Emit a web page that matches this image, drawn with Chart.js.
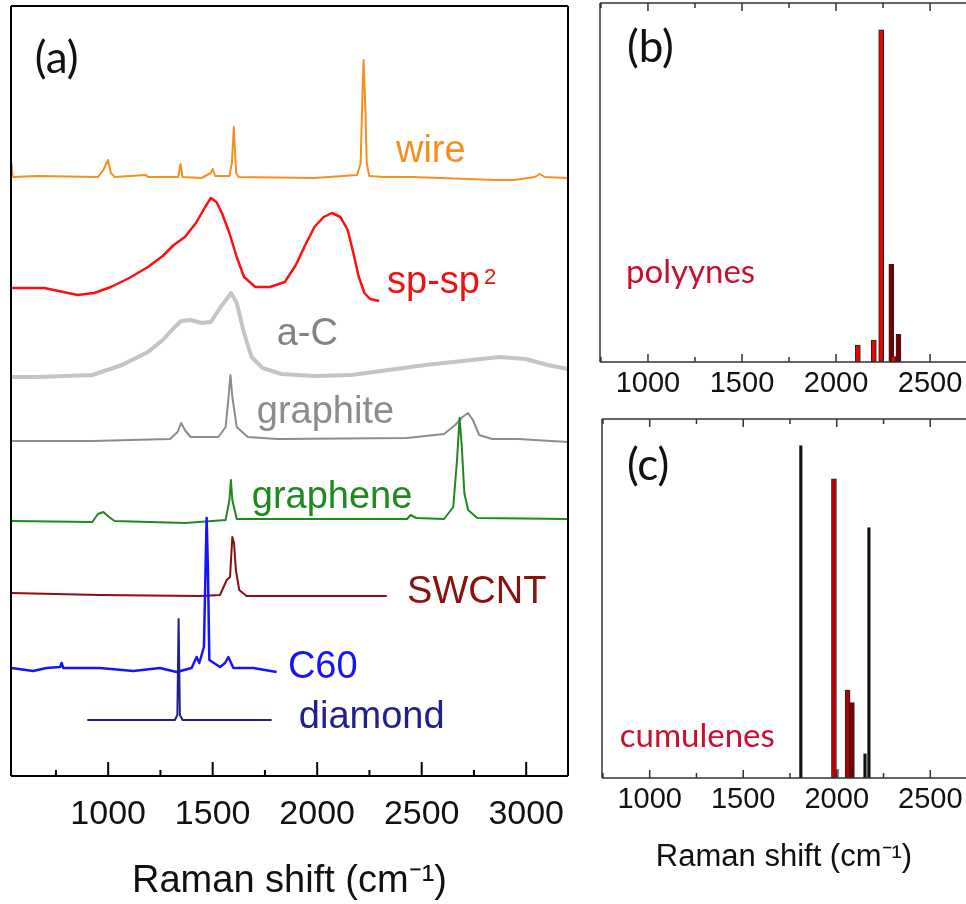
<!DOCTYPE html>
<html>
<head>
<meta charset="utf-8">
<script src="https://cdn.jsdelivr.net/npm/chart.js@4.4.1/dist/chart.umd.min.js"></script>
<style>
  html, body { margin: 0; padding: 0; background: #fff; overflow: hidden; }
  body { width: 966px; height: 904px; position: relative; }
  canvas { position: absolute; }
</style>
</head>
<body>
<canvas id="panelA" width="600" height="904" style="left:0;top:0"></canvas>
<canvas id="panelB" width="400" height="404" style="left:590px;top:0"></canvas>
<canvas id="panelC" width="400" height="494" style="left:590px;top:410px"></canvas>
<script>
// Raman shift (cm-1) vs intensity (a.u.)
const diamondSpectrum = [[900,0],[1319,0],[1331,5],[1337,101],[1343,5],[1356,0],[1782,0]];
const c60Spectrum = [[537,3],[641,0],[705,3],[770,4],[777,8],[785,3],[960,3],[1120,0],[1248,3],[1327,-1],[1399,3],[1423,14],[1436,8],[1458,24],[1466,104],[1471,153],[1477,104],[1484,11],[1535,4],[1559,8],[1575,14],[1599,3],[1694,3],[1806,-1]];
const swcntSpectrum = [[537,2],[960,0],[1439,-1],[1535,0],[1567,15],[1583,18],[1594,58],[1602,52],[1611,25],[1627,5],[1662,-1],[2333,-1]];
const grapheneSpectrum = [[540,0],[924,-1],[951,7],[977,9],[1004,4],[1031,0],[1367,-2],[1562,1],[1580,21],[1587,41],[1594,21],[1615,2],[1898,2],[2430,2],[2447,6],[2474,3],[2607,2],[2651,14],[2669,61],[2681,103],[2692,74],[2704,28],[2722,11],[2766,3],[3200,2]];
const graphiteSpectrum = [[540,0],[924,0],[1296,2],[1332,9],[1349,18],[1367,11],[1394,4],[1527,4],[1562,14],[1576,44],[1585,66],[1594,44],[1615,14],[1668,4],[1810,2],[2430,3],[2607,7],[2660,16],[2695,24],[2722,28],[2745,21],[2775,6],[2837,2],[2961,2],[3200,-1]];
const aCSpectrum = [[540,0],[659,0],[924,2],[1066,12],[1190,25],[1261,37],[1314,49],[1349,56],[1394,57],[1447,54],[1491,55],[1535,69],[1588,84],[1615,74],[1650,44],[1686,20],[1739,9],[1828,3],[1987,1],[2164,2],[2341,7],[2518,12],[2695,16],[2872,20],[2996,18],[3103,12],[3200,8]];
const spSp2Spectrum = [[540,0],[694,0],[854,-7],[933,-5],[1013,1],[1101,10],[1190,21],[1261,32],[1314,43],[1367,51],[1420,65],[1464,81],[1491,90],[1518,86],[1544,75],[1580,55],[1615,31],[1650,11],[1704,1],[1774,1],[1845,6],[1898,23],[1943,43],[1987,61],[2031,71],[2070,75],[2111,71],[2146,58],[2173,35],[2199,11],[2226,-5],[2244,-9],[2253,-11],[2297,-13]];
const wireSpectrum = [[537,14],[543,0],[659,1],[951,0],[977,7],[999,17],[1013,4],[1031,0],[1181,2],[1190,0],[1335,0],[1346,13],[1356,0],[1447,-1],[1491,4],[1500,8],[1512,1],[1580,1],[1592,14],[1601,50],[1612,4],[1624,0],[1987,-1],[2191,2],[2208,14],[2215,71],[2222,117],[2231,66],[2237,14],[2249,1],[2323,0],[2456,0],[2855,-3],[2943,-3],[3041,0],[3064,3],[3089,0],[3200,-1]];

// vertical offsets of the stacked spectra (same order as below, bottom first)
const spectrumNames = ['diamond', 'C60', 'SWCNT', 'graphene', 'graphite', 'a-C', 'sp-sp2', 'wire'];
const spectrumOffsets = [56, 105, 181, 255, 335, 399, 488, 599];

// computed spectra, panel (b) polyynes and (c) cumulenes
const polyyneShift = [2116, 2201, 2240, 2294, 2306, 2332];
const polyyneIntensity = [4.7, 6.1, 92.5, 27.2, 1.5, 7.7];
const cumuleneThinShift = [1808, 2004, 2151, 2172];
const cumuleneThinIntensity = [92.5, 2.4, 6.7, 69.7];
const cumuleneShift = [1985, 2058, 2081];
const cumuleneIntensity = [83.3, 24.5, 21.0];

const ticksA = [750, 1000, 1250, 1500, 1750, 2000, 2250, 2500, 2750, 3000];
const ticksBC = [750, 1000, 1250, 1500, 1750, 2000, 2250, 2500];
const majorTicks = [1000, 1500, 2000, 2500, 3000];

const SANS = "'Liberation Sans', Arial, sans-serif";
const HUMANIST = "Lato, 'Open Sans', sans-serif";

const spectraStyle = {
  'diamond': { color: '#1f1f8f', width: 2 },
  'C60': { color: '#1414ff', width: 2.5 },
  'SWCNT': { color: '#8b1010', width: 2 },
  'graphene': { color: '#1e8a1e', width: 2 },
  'graphite': { color: '#8c8c8c', width: 2 },
  'a-C': { color: '#c4c4c4', width: 4 },
  'sp-sp2': { color: '#ff1010', width: 2.5 },
  'wire': { color: '#f5901f', width: 2 },
};
const spectra = [diamondSpectrum, c60Spectrum, swcntSpectrum, grapheneSpectrum, graphiteSpectrum, aCSpectrum, spSp2Spectrum, wireSpectrum];

// frame with inward tick marks, drawn through the x scale
const makeFrame = (cfg) => ({
  id: 'frame',
  afterDraw(chart) {
    const { ctx, chartArea: { left, right, top, bottom }, scales: { x } } = chart;
    ctx.save();
    ctx.strokeStyle = cfg.color;
    ctx.lineWidth = cfg.width;
    ctx.beginPath();
    if (cfg.sides.includes('top')) { ctx.moveTo(left, top); ctx.lineTo(right, top); }
    if (cfg.sides.includes('bottom')) { ctx.moveTo(left, bottom); ctx.lineTo(right, bottom); }
    if (cfg.sides.includes('left')) { ctx.moveTo(left, top); ctx.lineTo(left, bottom); }
    if (cfg.sides.includes('right')) { ctx.moveTo(right, top); ctx.lineTo(right, bottom); }
    x.ticks.forEach((t) => {
      const px = x.getPixelForValue(t.value);
      const len = t.value % 500 === 0 ? cfg.major : cfg.minor;
      cfg.tickSides.forEach((side) => {
        const y0 = side === 'bottom' ? bottom : top;
        const dir = side === 'bottom' ? -1 : 1;
        ctx.moveTo(px, y0);
        ctx.lineTo(px, y0 + dir * len);
      });
    });
    ctx.stroke();
    ctx.restore();
  },
});

// text annotations placed in data coordinates
const makeLabels = (items) => ({
  id: 'textLabels',
  afterDatasetsDraw(chart) {
    const { ctx, scales: { x, y } } = chart;
    ctx.save();
    items.forEach((item) => {
      const px = x.getPixelForValue(item.x);
      const py = y.getPixelForValue(item.y);
      ctx.font = item.font;
      ctx.fillStyle = item.color;
      ctx.textAlign = 'left';
      ctx.textBaseline = item.baseline || 'alphabetic';
      ctx.fillText(item.text, px, py);
      if (item.sup) {
        const w = ctx.measureText(item.text).width;
        ctx.font = item.supFont;
        ctx.fillText(item.sup, px + w + 4, py - item.supRise);
      }
    });
    ctx.restore();
  },
});

const labelFont = `38px ${SANS}`;
const letterFont = `44px ${HUMANIST}`;
const labelsA = [
  { text: '(a)', x: 649, y: 717, color: '#111', font: letterFont, baseline: 'middle' },
  { text: 'wire', x: 2377, y: 614, color: '#f5901f', font: labelFont },
  { text: 'sp-sp', x: 2334, y: 483, color: '#ee1111', font: labelFont, sup: '2', supFont: `22px ${SANS}`, supRise: 9 },
  { text: 'a-C', x: 1806, y: 431, color: '#828282', font: labelFont },
  { text: 'graphite', x: 1711, y: 353, color: '#8c8c8c', font: labelFont },
  { text: 'graphene', x: 1687, y: 268, color: '#1e8a1e', font: labelFont },
  { text: 'SWCNT', x: 2430, y: 173, color: '#8b1010', font: labelFont },
  { text: 'C60', x: 1860, y: 98, color: '#1414ff', font: labelFont },
  { text: 'diamond', x: 1912, y: 48, color: '#1f1f8f', font: labelFont },
];
const labelsB = [
  { text: '(b)', x: 888, y: 87.5, color: '#111', font: letterFont, baseline: 'middle' },
  { text: 'polyynes', x: 883, y: 22, color: '#c8102e', font: `33px ${HUMANIST}` },
];
const labelsC = [
  { text: '(c)', x: 878, y: 86.9, color: '#111', font: letterFont, baseline: 'middle' },
  { text: 'cumulenes', x: 840, y: 8.6, color: '#c8102e', font: `33px ${HUMANIST}` },
];

const xAxis = (min, max, ticks, fontSize, padding, height, title) => ({
  type: 'linear',
  min: min,
  max: max,
  offset: false,
  afterBuildTicks: (axis) => {
    axis.ticks = ticks.map((value) => ({ value }));
  },
  afterFit: (axis) => {
    axis.height = height;
  },
  grid: { display: false, drawTicks: false },
  border: { display: false },
  ticks: {
    autoSkip: false,
    maxRotation: 0,
    padding: padding,
    color: '#111',
    font: { family: SANS, size: fontSize, lineHeight: 1 },
    callback: (value) => (majorTicks.includes(value) ? String(value) : ''),
  },
  title: title,
});

new Chart(document.getElementById('panelA'), {
  type: 'line',
  data: {
    datasets: spectra.map((points, i) => ({
      label: spectrumNames[i],
      data: points.map(([shift, counts]) => ({ x: shift, y: counts + spectrumOffsets[i] })),
      borderColor: spectraStyle[spectrumNames[i]].color,
      borderWidth: spectraStyle[spectrumNames[i]].width,
      pointRadius: 0,
      tension: 0,
      fill: false,
      borderJoinStyle: 'round',
    })),
  },
  options: {
    responsive: false,
    animation: false,
    layout: { padding: { left: 11, right: 32, top: 6, bottom: 0 } },
    plugins: { legend: { display: false }, tooltip: { enabled: false } },
    scales: {
      x: xAxis(535, 3200, ticksA, 34, 22, 128, {
        display: true,
        text: 'Raman shift (cm\u207B\u00B9)',
        color: '#111',
        font: { family: SANS, size: 38, lineHeight: 1 },
        padding: { top: 0, bottom: 3 },
      }),
      y: { display: false, min: 0, max: 770 },
    },
  },
  plugins: [makeFrame({ color: '#000', width: 2, sides: ['top', 'bottom', 'left', 'right'], tickSides: ['bottom'], major: 14, minor: 6 }), makeLabels(labelsA)],
});

const barScaleY = { display: false, min: 0, max: 100 };

new Chart(document.getElementById('panelB'), {
  type: 'bar',
  data: {
    datasets: [{
      label: 'polyynes',
      data: polyyneShift.map((shift, i) => ({ x: shift, y: polyyneIntensity[i] })),
      backgroundColor: ['#f00000', '#f00000', '#f00000', '#7a0000', '#f00000', '#7a0000'],
      borderColor: '#222',
      borderWidth: 1,
      borderSkipped: false,
      barThickness: 5,
      grouped: false,
    }],
  },
  options: {
    responsive: false,
    animation: false,
    layout: { padding: { left: 10, right: 24, top: 3, bottom: 0 } },
    plugins: { legend: { display: false }, tooltip: { enabled: false } },
    scales: {
      x: xAxis(745, 2691, ticksBC, 29, 7.5, 42, { display: false }),
      y: barScaleY,
    },
  },
  plugins: [makeFrame({ color: '#333', width: 1.5, sides: ['top', 'bottom', 'left'], tickSides: ['bottom', 'top'], major: 8, minor: 5 }), makeLabels(labelsB)],
});

new Chart(document.getElementById('panelC'), {
  type: 'bar',
  data: {
    datasets: [
      {
        label: 'cumulenes',
        data: cumuleneShift.map((shift, i) => ({ x: shift, y: cumuleneIntensity[i] })),
        backgroundColor: ['#c00000', '#b00000', '#7a0000'],
        borderColor: '#222',
        borderWidth: 1,
        borderSkipped: false,
        barThickness: 5,
        grouped: false,
      },
      {
        label: 'cumulenes (lines)',
        data: cumuleneThinShift.map((shift, i) => ({ x: shift, y: cumuleneThinIntensity[i] })),
        backgroundColor: ['#111', '#888', '#111', '#111'],
        borderWidth: 0,
        barThickness: 2.5,
        grouped: false,
      },
    ],
  },
  options: {
    responsive: false,
    animation: false,
    layout: { padding: { left: 12, right: 24, top: 9, bottom: 0 } },
    plugins: { legend: { display: false }, tooltip: { enabled: false } },
    scales: {
      x: xAxis(745, 2691, ticksBC, 29, 7.5, 126, {
        display: true,
        text: 'Raman shift (cm\u207B\u00B9)',
        color: '#111',
        font: { family: SANS, size: 31, lineHeight: 1 },
        padding: { top: 0, bottom: 31.5 },
      }),
      y: barScaleY,
    },
  },
  plugins: [makeFrame({ color: '#333', width: 1.5, sides: ['top', 'bottom', 'left'], tickSides: ['bottom', 'top'], major: 8, minor: 5 }), makeLabels(labelsC)],
});
</script>
</body>
</html>
